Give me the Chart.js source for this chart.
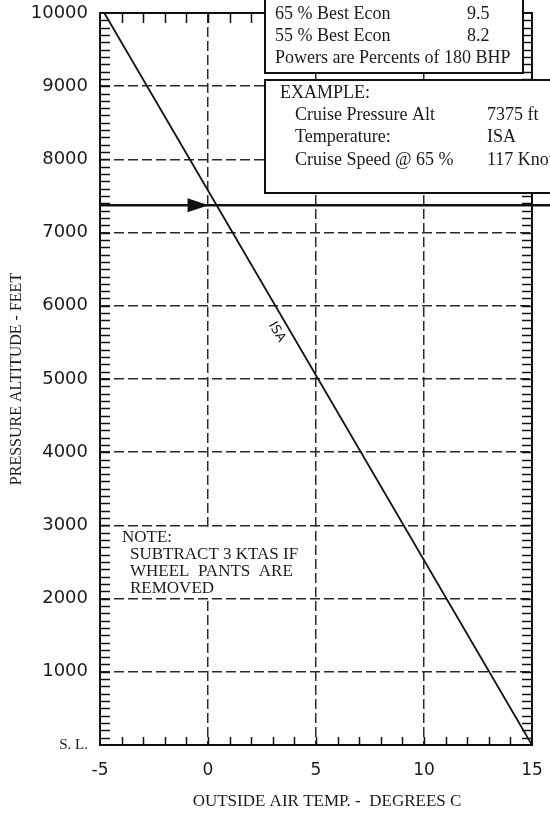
<!DOCTYPE html>
<html>
<head>
<meta charset="utf-8">
<script src="https://cdn.jsdelivr.net/npm/chart.js@4.4.1/dist/chart.umd.min.js"></script>
<style>
  html, body { margin: 0; padding: 0; background: #fff; }
  #c { display: block; }
</style>
</head>
<body>
<canvas id="c" width="550" height="813" style="width:550px;height:813px"></canvas>
<script>
// Standard atmosphere line: temperature (deg C) against pressure altitude (ft)
const isaTemp = [15, -4.8];
const isaAlt = [0, 10000];

// Axis ticks and their labels
const tempTicks = [-5, 0, 5, 10, 15];
const tempLabels = ['-5', '0', '5', '10', '15'];
const altTicks = [0, 1000, 2000, 3000, 4000, 5000, 6000, 7000, 8000, 9000, 10000];
const altLabels = ['S. L.', '1000', '2000', '3000', '4000', '5000', '6000', '7000', '8000', '9000', '10000'];

// Worked example
const cruiseAlt = 7375;
const econRows = [['65 % Best Econ', '9.5'], ['55 % Best Econ', '8.2']];
const econFootnote = 'Powers are Percents of 180 BHP';
const exampleTitle = 'EXAMPLE:';
const exampleRows = [['Cruise Pressure Alt', '7375 ft'], ['Temperature:', 'ISA'], ['Cruise Speed @ 65 %', '117 Knots']];
const noteLines = ['NOTE:', 'SUBTRACT 3 KTAS IF', 'WHEEL  PANTS  ARE', 'REMOVED'];

const SERIF = '"Liberation Serif", "Times New Roman", serif';
const SANS = '"DejaVu Sans", Verdana, sans-serif';
const INK = '#1b1b1b';

// temperature on the ISA line at a given altitude
function isaAt(alt) {
  const t = (alt - isaAlt[0]) / (isaAlt[1] - isaAlt[0]);
  return isaTemp[0] + t * (isaTemp[1] - isaTemp[0]);
}

// keep the plot frame at fixed insets: labels may overhang the layout padding
function noOverhang(s) {
  s.paddingTop = 0; s.paddingBottom = 0; s.paddingLeft = 0; s.paddingRight = 0;
}

const overlay = {
  id: 'overlay',
  afterDraw(chart) {
    const { ctx, chartArea: a, scales: { x, y } } = chart;
    ctx.save();

    // note panel over the grid
    ctx.fillStyle = '#fff';
    ctx.fillRect(111, 528, 197, 69);
    ctx.fillStyle = INK;
    ctx.font = '17px ' + SERIF;
    ctx.textBaseline = 'middle';
    ctx.textAlign = 'left';
    ctx.fillText(noteLines[0], 122, 538);
    ctx.fillText(noteLines[1], 130, 555);
    ctx.fillText(noteLines[2], 130, 572);
    ctx.fillText(noteLines[3], 130, 589);

    // frame
    ctx.strokeStyle = '#111';
    ctx.lineWidth = 2;
    ctx.strokeRect(a.left, a.top, a.right - a.left, a.bottom - a.top);

    // minor ticks pointing inward
    ctx.lineWidth = 1.5;
    ctx.beginPath();
    for (let v = 100; v < 10000; v += 100) {
      const py = Math.round(y.getPixelForValue(v)) + 0.5;
      ctx.moveTo(a.left, py); ctx.lineTo(a.left + 10, py);
      ctx.moveTo(a.right - 10, py); ctx.lineTo(a.right, py);
    }
    for (let v = -4; v < 15; v += 1) {
      const px = Math.round(x.getPixelForValue(v)) + 0.5;
      ctx.moveTo(px, a.bottom); ctx.lineTo(px, a.bottom - 8);
      ctx.moveTo(px, a.top); ctx.lineTo(px, a.top + 10);
    }
    ctx.stroke();

    // cruise altitude arrow
    const ya = y.getPixelForValue(cruiseAlt);
    const tip = x.getPixelForValue(isaAt(cruiseAlt)) - 8;
    ctx.strokeStyle = '#111';
    ctx.lineWidth = 2.5;
    ctx.beginPath();
    ctx.moveTo(a.left, ya); ctx.lineTo(chart.width, ya);
    ctx.stroke();
    ctx.fillStyle = '#111';
    ctx.beginPath();
    ctx.moveTo(tip, ya);
    ctx.lineTo(tip - 21, ya - 7);
    ctx.lineTo(tip - 21, ya + 7);
    ctx.closePath();
    ctx.fill();

    // ISA label along the line
    const x0 = x.getPixelForValue(isaTemp[1]), y0 = y.getPixelForValue(isaAlt[1]);
    const x1 = x.getPixelForValue(isaTemp[0]), y1 = y.getPixelForValue(isaAlt[0]);
    const ang = Math.atan2(y1 - y0, x1 - x0);
    const la = 5640;
    ctx.save();
    ctx.translate(x.getPixelForValue(isaAt(la)) - 14, y.getPixelForValue(la));
    ctx.rotate(ang);
    ctx.font = '13px ' + SANS;
    ctx.textAlign = 'center';
    ctx.textBaseline = 'middle';
    ctx.fillStyle = INK;
    ctx.fillText('ISA', 0, 0);
    ctx.restore();

    // economy panel
    ctx.fillStyle = '#fff';
    ctx.strokeStyle = '#111';
    ctx.lineWidth = 2;
    ctx.fillRect(265, -4, 258, 77);
    ctx.strokeRect(265, -4, 258, 77);
    ctx.fillStyle = INK;
    ctx.font = '18px ' + SERIF;
    ctx.textAlign = 'left';
    ctx.textBaseline = 'middle';
    econRows.forEach((r, i) => {
      ctx.fillText(r[0], 275, 14 + i * 22);
      ctx.fillText(r[1], 467, 14 + i * 22);
    });
    ctx.fillText(econFootnote, 275, 58);

    // example panel
    ctx.fillStyle = '#fff';
    ctx.fillRect(265, 80, 300, 113);
    ctx.strokeRect(265, 80, 300, 113);
    ctx.fillStyle = INK;
    ctx.fillText(exampleTitle, 280, 93);
    exampleRows.forEach((r, i) => {
      ctx.fillText(r[0], 295, 115 + i * 22.5);
      ctx.fillText(r[1], 487, 115 + i * 22.5);
    });

    // temperature axis title
    ctx.font = '17px ' + SERIF;
    ctx.textAlign = 'center';
    ctx.fillText('OUTSIDE AIR TEMP. -  DEGREES C', 327, 802);

    ctx.restore();
  }
};

new Chart(document.getElementById('c'), {
  type: 'line',
  data: {
    datasets: [{
      label: 'ISA',
      data: isaTemp.map((t, i) => ({ x: t, y: isaAlt[i] })),
      borderColor: '#111',
      borderWidth: 1.8,
      pointRadius: 0,
      fill: false,
      tension: 0
    }]
  },
  options: {
    responsive: false,
    animation: false,
    layout: { padding: { left: 0, right: 18, top: 13, bottom: 0 } },
    plugins: { legend: { display: false }, tooltip: { enabled: false } },
    scales: {
      x: {
        type: 'linear',
        min: -5, max: 15,
        afterBuildTicks: s => { s.ticks = tempTicks.map(v => ({ value: v })); },
        afterFit: s => { s.height = 68; noOverhang(s); },
        ticks: {
          callback: (v, i) => tempLabels[i],
          font: { family: SANS, size: 17 },
          color: INK,
          padding: 15,
          maxRotation: 0,
          autoSkip: false
        },
        grid: { color: '#2a2a2a', lineWidth: 1.5, drawTicks: false },
        border: { display: false, dash: [10, 4] }
      },
      y: {
        type: 'linear',
        min: 0, max: 10000,
        afterBuildTicks: s => { s.ticks = altTicks.map(v => ({ value: v })); },
        afterFit: s => { s.width = 100; noOverhang(s); },
        ticks: {
          callback: (v, i) => altLabels[i],
          font: ctx => (ctx.tick && ctx.tick.value === 0)
            ? { family: SERIF, size: 15 }
            : { family: SANS, size: 18 },
          color: INK,
          padding: 12,
          autoSkip: false
        },
        title: {
          display: true,
          text: 'PRESSURE ALTITUDE - FEET',
          font: { family: SERIF, size: 16 },
          color: INK,
          padding: { top: 7, bottom: 0 }
        },
        grid: { color: '#2a2a2a', lineWidth: 1.5, drawTicks: false },
        border: { display: false, dash: [10, 4] }
      }
    }
  },
  plugins: [overlay]
});
</script>
</body>
</html>
